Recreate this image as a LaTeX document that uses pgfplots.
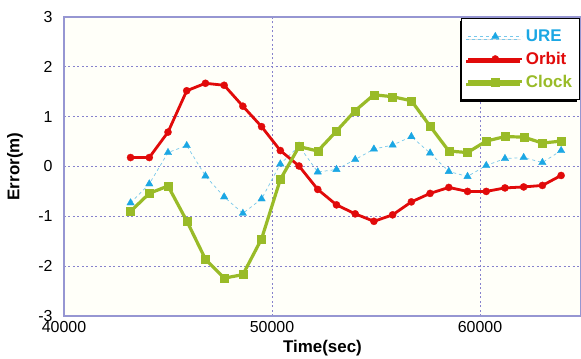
\documentclass[border=0pt]{standalone}
\usepackage{fontspec}
\setmainfont{Liberation Sans}
\usepackage{pgfplots}
\pgfplotsset{compat=1.18}
\usetikzlibrary{shadows}
\definecolor{ureC}{RGB}{27,167,228}
\definecolor{ureL}{RGB}{120,200,235}
\definecolor{orbC}{RGB}{225,10,10}
\definecolor{clkC}{RGB}{153,187,40}
\definecolor{gridC}{RGB}{135,130,205}
\definecolor{axisC}{RGB}{150,150,210}
\definecolor{bgC}{RGB}{255,255,249}
\begin{document}
\begin{tikzpicture}
\begin{axis}[
  scale only axis, width=517bp, height=299bp,
  xmin=40000, xmax=64856, ymin=-3, ymax=3,
  xtick={40000,50000,60000}, ytick={-3,-2,-1,0,1,2,3},
  scaled x ticks=false,
  /pgf/number format/1000 sep={},
  /pgf/number format/assume math mode=true,
  major tick length=0pt,
  grid=major,
  major grid style={draw=gridC, line width=0.7bp, dash pattern=on 2bp off 2.5bp},
  axis line style={draw=axisC, line width=1.1bp},
  axis background/.style={fill=bgC},
  tick label style={font=\fontsize{16}{19}\selectfont},
  yticklabel style={anchor=east, xshift=-8bp},
  xticklabel style={anchor=north, yshift=-2bp},
  label style={font=\fontsize{17}{20}\selectfont\bfseries},
  xlabel={Time(sec)}, ylabel={Error(m)},
  xlabel style={at={(axis description cs:0.5,-0.107)}, anchor=center},
  ylabel style={at={(axis description cs:-0.0948,0.5)}, anchor=center},
  legend style={at={(1,1)}, anchor=north east, xshift=-1.5bp, yshift=-1.5bp,
    draw=black, line width=1bp, fill=white,
    drop shadow={shadow xshift=-2bp, shadow yshift=-2.5bp, fill=black, opacity=1},
    font=\fontsize{17}{20}\selectfont\bfseries, inner xsep=5bp, inner ysep=9bp,
    row sep=5bp},
  legend cell align=left,
  legend image code/.code={\draw[mark repeat=2,mark phase=2] plot coordinates {(0bp,0bp) (27bp,0bp) (54bp,0bp)};},
]
\addplot[draw=ureL, line width=0.7bp, dash pattern=on 3bp off 3bp,
  mark=triangle*, mark size=4.3bp, mark options={solid, fill=ureC, draw=ureC, line width=0.3bp}]
  coordinates {
  (43200,-0.73) (44100,-0.35) (45000,0.28) (45900,0.42) (46800,-0.19) (47700,-0.61)
  (48600,-0.94) (49500,-0.65) (50400,0.05) (51300,0.41) (52200,-0.11) (53100,-0.06)
  (54000,0.14) (54900,0.35) (55800,0.43) (56700,0.60) (57600,0.27) (58500,-0.10)
  (59400,-0.20) (60300,0.02) (61200,0.16) (62100,0.18) (63000,0.08) (63900,0.32)};
\addlegendentry{\textcolor{ureC}{URE}}
\addplot[draw=orbC, line width=2.8bp, mark=*, mark size=3.6bp, mark options={fill=orbC, draw=orbC, line width=0.3bp}]
  coordinates {
  (43200,0.18) (44100,0.18) (45000,0.69) (45900,1.52) (46800,1.67) (47700,1.63)
  (48600,1.21) (49500,0.80) (50400,0.32) (51300,0.01) (52200,-0.46) (53100,-0.77)
  (54000,-0.95) (54900,-1.10) (55800,-0.97) (56700,-0.71) (57600,-0.54) (58500,-0.42)
  (59400,-0.50) (60300,-0.50) (61200,-0.43) (62100,-0.41) (63000,-0.38) (63900,-0.18)};
\addlegendentry{\textcolor{orbC}{Orbit}}
\addplot[draw=clkC, line width=3.2bp, mark=square*, mark size=4bp, mark options={fill=clkC, draw=clkC, line width=0.3bp}]
  coordinates {
  (43200,-0.90) (44100,-0.54) (45000,-0.39) (45900,-1.09) (46800,-1.86) (47700,-2.24)
  (48600,-2.17) (49500,-1.45) (50400,-0.26) (51300,0.40) (52200,0.31) (53100,0.71)
  (54000,1.12) (54900,1.44) (55800,1.40) (56700,1.32) (57600,0.81) (58500,0.31)
  (59400,0.28) (60300,0.51) (61200,0.60) (62100,0.59) (63000,0.47) (63900,0.51)};
\addlegendentry{\textcolor{clkC}{Clock}}
\end{axis}
\pgfresetboundingbox
\path[use as bounding box] (-64bp,-43bp) rectangle (517bp,316bp);
\end{tikzpicture}
\end{document}
